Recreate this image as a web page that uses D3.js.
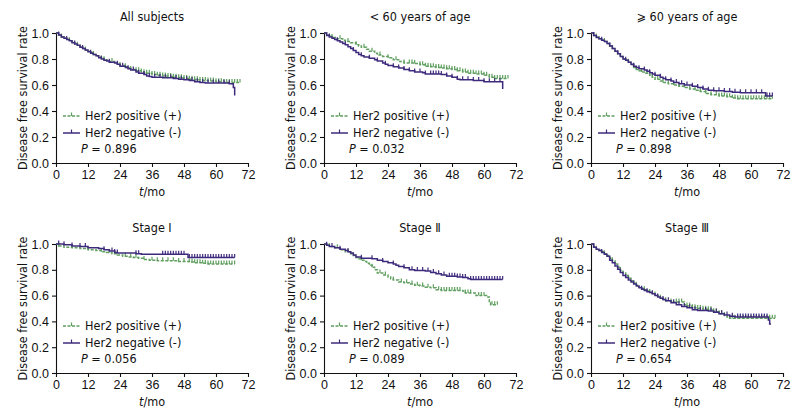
<!DOCTYPE html>
<html><head><meta charset="utf-8">
<script src="https://cdn.jsdelivr.net/npm/d3@7"></script>
<style>
body{margin:0;background:#fff;}
svg{display:block;font-family:"DejaVu Sans Condensed","DejaVu Sans",sans-serif;font-stretch:condensed;}
</style></head>
<body><svg id="c" width="800" height="419"></svg>
<script>
// ---------- data ----------
const titles = ["All subjects", "< 60 years of age", "\u2a7e 60 years of age", "Stage \u2160", "Stage \u2161", "Stage \u2162"];
const pValues = ["0.896", "0.032", "0.898", "0.056", "0.089", "0.654"];
const seriesNames = ["Her2 positive (+)", "Her2 negative (-)"];
const xTicks = [0, 12, 24, 36, 48, 60, 72];
const yTicks = [0, 0.2, 0.4, 0.6, 0.8, 1.0];

const allPos = [[0,1],[1,0.985],[2,0.97],[3,0.96],[4,0.95],[5,0.94],[6,0.93],[7,0.915],[8,0.905],[9,0.895],[10,0.88],[11,0.87],[12,0.86],[13,0.85],[14,0.835],[15,0.825],[16,0.815],[17,0.805],[18,0.795],[19,0.79],[20,0.78],[22,0.77],[23,0.76],[24,0.75],[26,0.74],[27,0.73],[28,0.72],[30,0.71],[32,0.70],[33,0.695],[34,0.69],[36,0.68],[38,0.675],[40,0.67],[42,0.665],[44,0.66],[46,0.655],[48,0.65],[50,0.645],[52,0.64],[54,0.635],[57,0.63],[60,0.625],[63,0.62],[69,0.62]];
const allNeg = [[0,1],[1,0.985],[2,0.97],[3,0.96],[4,0.95],[5,0.94],[6,0.925],[7,0.915],[8,0.905],[9,0.89],[10,0.88],[11,0.87],[12,0.855],[13,0.845],[14,0.835],[15,0.825],[16,0.81],[17,0.80],[18,0.79],[19,0.785],[20,0.775],[22,0.77],[23,0.76],[24,0.745],[26,0.735],[27,0.725],[28,0.715],[30,0.70],[31,0.69],[33,0.68],[34,0.67],[35,0.665],[36,0.66],[40,0.655],[44,0.65],[46,0.645],[48,0.64],[50,0.635],[52,0.625],[54,0.62],[56,0.615],[60,0.615],[65,0.61],[66.5,0.58],[67,0.52]];
const allPosCens = [2,5,8,11,14,18,21,24,26,28,30,31,32,33,34,35,36,37,38,39,40,41,42,43,44,45,46,47,48,49,50,51,52,53,54,55,56,57,58,59,60,61,62,63,64,65,66,67,68,69];
const allNegCens = [1,4,7,10,13,17,20,23,25,27,29,31,33,35,37,39,41,43,45,47,49,51,53,55,57,59,61,63,65];

const u60Pos = [[0,1],[1,0.985],[2,0.975],[3,0.965],[5,0.955],[7,0.945],[8,0.935],[10,0.925],[12,0.91],[13,0.9],[14,0.89],[16,0.875],[17,0.86],[19,0.845],[20,0.83],[22,0.82],[24,0.81],[26,0.795],[28,0.78],[30,0.77],[34,0.765],[36,0.755],[38,0.745],[40,0.74],[42,0.735],[44,0.73],[46,0.725],[48,0.72],[50,0.71],[52,0.70],[54,0.69],[57,0.685],[60,0.675],[62,0.66],[64,0.65],[69,0.65]];
const u60Neg = [[0,1],[1,0.98],[2,0.97],[3,0.96],[4,0.95],[5,0.94],[6,0.93],[7,0.92],[8,0.91],[9,0.895],[10,0.88],[11,0.865],[12,0.85],[13,0.835],[14,0.825],[15,0.815],[17,0.805],[19,0.795],[20,0.785],[22,0.77],[23,0.76],[24,0.75],[26,0.74],[28,0.73],[30,0.72],[32,0.71],[34,0.70],[37,0.695],[38,0.685],[44,0.68],[46,0.67],[48,0.66],[50,0.645],[51,0.64],[56,0.635],[60,0.625],[66.5,0.625],[67,0.57]];
const u60PosCens = [3,6,9,12,15,18,21,24,27,30,32,33,34,36,37,38,39,40,41,42,43,44,45,46,47,48,49,50,51,52,53,54,55,56,57,58,59,60,61,62,63,64,65,66,67,68,69];
const u60NegCens = [2,5,8,11,14,17,20,23,26,28,30,32,34,36,38,40,41,42,43,44,46,48,50,52,54,56,58,60,62,64,66];

const o60Pos = [[0,1],[1,0.98],[2,0.97],[3,0.955],[4,0.945],[5,0.935],[6,0.92],[7,0.9],[8,0.88],[9,0.86],[10,0.84],[11,0.82],[12,0.80],[13,0.79],[14,0.775],[15,0.755],[16,0.735],[17,0.72],[18,0.71],[19,0.70],[20,0.69],[22,0.675],[23,0.66],[24,0.645],[26,0.63],[27,0.62],[29,0.61],[31,0.60],[33,0.59],[35,0.58],[37,0.57],[39,0.56],[41,0.55],[43,0.535],[45,0.525],[48,0.515],[51,0.51],[53,0.50],[55,0.495],[68,0.495]];
const o60Neg = [[0,1],[1,0.98],[2,0.965],[3,0.955],[4,0.945],[5,0.935],[6,0.92],[7,0.9],[8,0.88],[9,0.86],[10,0.84],[11,0.82],[12,0.80],[13,0.79],[14,0.775],[15,0.76],[16,0.745],[17,0.735],[18,0.725],[20,0.715],[21,0.705],[22,0.695],[23,0.685],[24,0.675],[26,0.66],[27,0.65],[28,0.64],[30,0.63],[31,0.62],[33,0.61],[35,0.60],[38,0.59],[40,0.58],[42,0.57],[44,0.56],[46,0.555],[50,0.55],[53,0.545],[56,0.54],[65,0.54],[65.5,0.515],[68,0.515]];
const o60PosCens = [2,5,8,11,14,17,19,21,23,25,27,29,31,33,35,37,39,41,43,45,47,48,49,50,51,52,53,54,55,56,57,58,59,60,61,62,63,64,65,66,67,68];
const o60NegCens = [1,4,7,10,13,16,18,20,22,24,26,28,30,32,34,36,38,40,42,44,46,48,50,52,54,56,58,60,62,64,66,67,68];

const s1Pos = [[0,1],[1,0.985],[3,0.975],[6,0.97],[9,0.965],[12,0.955],[15,0.95],[17,0.94],[19,0.935],[21,0.925],[23,0.915],[25,0.905],[27,0.9],[29,0.895],[31,0.89],[33,0.88],[35,0.875],[38,0.87],[46,0.865],[50,0.86],[52,0.855],[55,0.85],[57,0.845],[67,0.845]];
const s1Neg = [[0,1],[3,0.995],[6,0.985],[9,0.98],[12,0.97],[16,0.965],[18,0.955],[20,0.945],[22,0.935],[23,0.93],[30,0.925],[32,0.92],[49,0.92],[49.5,0.895],[67,0.895]];
const s1PosCens = [1,6,12,17,20,22,26,28,30,33,36,38,40,42,44,46,48,50,51,52,53,54,55,56,57,58,59,60,61,62,63,64,65,66,67];
const s1NegCens = [1,3,6,9,11,18,21,22,23,30,31,40,41,42,43,44,45,46,47,48,50,51,52,53,54,55,56,57,58,59,60,61,62,63,64,65,66,67];

const s2Pos = [[0,1],[1,0.99],[2,0.98],[4,0.97],[6,0.955],[8,0.94],[10,0.925],[11,0.91],[12,0.895],[13,0.885],[14,0.875],[15,0.865],[16,0.85],[17,0.835],[18,0.82],[19,0.80],[20,0.775],[22,0.76],[24,0.745],[25,0.73],[26,0.72],[28,0.705],[30,0.70],[32,0.69],[34,0.68],[36,0.675],[38,0.665],[40,0.66],[42,0.645],[44,0.64],[52,0.635],[53,0.62],[56,0.62],[57,0.60],[61,0.59],[62,0.555],[62.5,0.53],[65,0.53]];
const s2Neg = [[0,1],[1,0.99],[2,0.98],[4,0.97],[6,0.96],[8,0.95],[9,0.94],[10,0.93],[11,0.915],[12,0.90],[14,0.89],[18,0.885],[20,0.875],[22,0.865],[24,0.855],[26,0.845],[27,0.835],[28,0.825],[30,0.815],[32,0.80],[34,0.795],[38,0.79],[40,0.78],[42,0.77],[44,0.76],[46,0.75],[50,0.745],[52,0.74],[54,0.73],[55,0.725],[67,0.725]];
const s2PosCens = [2,5,9,14,18,21,23,26,29,31,33,35,37,39,41,43,44,45,46,47,48,49,50,51,53,54,55,58,59,60,63,64,65];
const s2NegCens = [1,3,6,9,14,18,22,26,30,33,35,37,39,41,43,45,47,48,49,50,51,52,53,55,56,57,58,59,60,61,62,63,64,65,66,67];

const s3Pos = [[0,1],[1,0.975],[2,0.96],[3,0.95],[4,0.94],[5,0.925],[6,0.91],[7,0.89],[8,0.87],[9,0.845],[10,0.82],[11,0.795],[12,0.775],[13,0.755],[14,0.735],[15,0.715],[16,0.695],[17,0.68],[18,0.665],[19,0.655],[20,0.645],[21,0.635],[22,0.625],[23,0.615],[24,0.605],[25,0.595],[26,0.58],[27,0.57],[28,0.56],[30,0.55],[35,0.53],[36,0.52],[38,0.505],[40,0.50],[42,0.495],[44,0.49],[46,0.475],[48,0.46],[50,0.445],[51,0.435],[52,0.425],[69,0.425]];
const s3Neg = [[0,1],[1,0.975],[2,0.96],[3,0.95],[4,0.935],[5,0.92],[6,0.905],[7,0.875],[8,0.855],[9,0.83],[10,0.805],[11,0.78],[12,0.755],[13,0.74],[14,0.72],[15,0.705],[16,0.69],[17,0.675],[18,0.66],[19,0.65],[20,0.64],[21,0.63],[22,0.625],[23,0.615],[24,0.60],[25,0.59],[26,0.58],[27,0.57],[28,0.56],[30,0.545],[32,0.53],[34,0.515],[36,0.505],[38,0.49],[40,0.485],[44,0.48],[46,0.47],[48,0.46],[50,0.45],[52,0.44],[54,0.435],[66,0.435],[66.5,0.41],[67,0.38],[67.5,0.38]];
const s3PosCens = [2,5,8,11,14,17,20,22,24,26,28,30,32,33,34,36,37,38,39,40,41,42,43,44,45,46,47,48,49,50,52,53,54,55,56,57,58,59,60,61,62,63,64,65,66,67,68,69];
const s3NegCens = [1,4,7,10,13,16,19,21,23,25,27,29,31,33,35,37,39,41,43,45,47,49,51,53,55,56,57,58,59,60,61,62,63,64,65,66];

const panelPos = [allPos, u60Pos, o60Pos, s1Pos, s2Pos, s3Pos];
const panelNeg = [allNeg, u60Neg, o60Neg, s1Neg, s2Neg, s3Neg];
const panelPosCens = [allPosCens, u60PosCens, o60PosCens, s1PosCens, s2PosCens, s3PosCens];
const panelNegCens = [allNegCens, u60NegCens, o60NegCens, s1NegCens, s2NegCens, s3NegCens];

// ---------- layout ----------
const colX = [[56, 248], [324, 516], [591, 783]];
const rowY = [[163, 33], [373, 244]];
const GREEN = "#5f9f5f", PURPLE = "#3e2a7c";

const svg = d3.select("#c");

function stepVal(data, t) {
  let v = data[0][1];
  for (const d of data) { if (d[0] <= t) v = d[1]; else break; }
  return v;
}

for (let i = 0; i < 6; i++) {
  const col = i % 3, row = Math.floor(i / 3);
  const x = d3.scaleLinear().domain([0, 72]).range(colX[col]);
  const y = d3.scaleLinear().domain([0, 1]).range(rowY[row]);
  const g = svg.append("g");

  const xa = g.append("g").attr("transform", `translate(0,${rowY[row][0]})`)
    .call(d3.axisBottom(x).tickValues(xTicks).tickSizeOuter(0).tickSizeInner(4).tickPadding(3).tickFormat(d3.format("d")));
  const ya = g.append("g").attr("transform", `translate(${colX[col][0]},0)`)
    .call(d3.axisLeft(y).tickValues(yTicks).tickSizeOuter(0).tickSizeInner(4).tickPadding(3).tickFormat(d3.format(".1f")));
  [xa, ya].forEach(a => {
    a.selectAll("text").attr("font-size", 12.5).attr("fill", "#111").attr("font-family", null);
    a.selectAll("path,line").attr("stroke", "#111").attr("stroke-width", 1.1);
  });

  const cx = (colX[col][0] + colX[col][1]) / 2;
  const cy = (rowY[row][0] + rowY[row][1]) / 2;
  g.append("text").attr("x", cx).attr("y", rowY[row][1] - 12).attr("text-anchor", "middle")
    .attr("font-size", 12.5).attr("fill", "#111").text(titles[i]);
  const xl = g.append("text").attr("x", cx).attr("y", rowY[row][0] + 33).attr("text-anchor", "middle")
    .attr("font-size", 12.5).attr("fill", "#111");
  xl.append("tspan").attr("font-style", "italic").text("t");
  xl.append("tspan").text("/mo");
  g.append("text").attr("transform", `translate(${colX[col][0] - 33},${cy}) rotate(-90)`)
    .attr("text-anchor", "middle").attr("dy", "0.35em").attr("font-size", 12.5).attr("fill", "#111")
    .text("Disease free survival rate");

  // curves
  const series = [
    {data: panelPos[i], cens: panelPosCens[i], color: GREEN, dash: "3,1.5"},
    {data: panelNeg[i], cens: panelNegCens[i], color: PURPLE, dash: null}
  ];
  series.forEach(s => {
    const p = d3.path();
    p.moveTo(x(s.data[0][0]), y(s.data[0][1]));
    for (let k = 1; k < s.data.length; k++) {
      p.lineTo(x(s.data[k][0]), y(s.data[k - 1][1]));
      p.lineTo(x(s.data[k][0]), y(s.data[k][1]));
    }
    g.append("path").attr("d", p.toString()).attr("fill", "none").attr("stroke", s.color)
      .attr("stroke-width", 1.5).attr("stroke-dasharray", s.dash);
    g.selectAll(null).data(s.cens).enter().append("line")
      .attr("x1", t => x(t)).attr("x2", t => x(t))
      .attr("y1", t => y(stepVal(s.data, t))).attr("y2", t => y(stepVal(s.data, t)) - 3.5)
      .attr("stroke", s.color).attr("stroke-width", 1.2);
  });

  // legend
  const lx = colX[col][0], ly = rowY[row][0];
  series.forEach((s, k) => {
    const yy = ly - 47 + k * 17;
    g.append("line").attr("x1", lx + 7).attr("x2", lx + 24).attr("y1", yy).attr("y2", yy)
      .attr("stroke", s.color).attr("stroke-width", 1.5).attr("stroke-dasharray", s.dash);
    g.append("line").attr("x1", lx + 15.5).attr("x2", lx + 15.5).attr("y1", yy).attr("y2", yy - 3.5)
      .attr("stroke", s.color).attr("stroke-width", 1.2);
    g.append("text").attr("x", lx + 29).attr("y", yy).attr("dy", "0.35em")
      .attr("font-size", 12.5).attr("fill", "#111").text(seriesNames[k]);
  });
  const pt = g.append("text").attr("x", lx + 25).attr("y", ly - 14).attr("dy", "0.35em")
    .attr("font-size", 12.5).attr("fill", "#111");
  pt.append("tspan").attr("font-style", "italic").text("P");
  pt.append("tspan").text(" = " + pValues[i]);
}
</script></body></html>
